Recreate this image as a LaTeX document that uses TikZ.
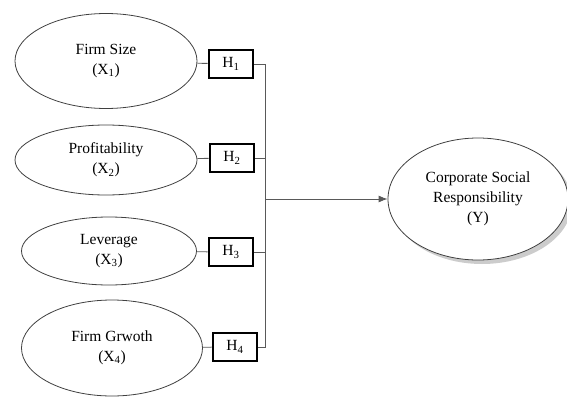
\documentclass[tikz,border=0pt]{standalone}
\usepackage{fontspec}
\setmainfont{Liberation Serif}
\usepackage{xcolor}
\usetikzlibrary{shapes.geometric,shadows,arrows.meta}

\begin{document}
\begin{tikzpicture}[x=1pt,y=-1pt]
\tikzstyle{every node}+=[inner sep=0pt, align=center, font=\fontsize{15.5}{20}\selectfont]
\tikzstyle{var}=[draw=black!75, line width=0.8pt, ellipse, fill=white]
\tikzstyle{hyp}=[draw=black, line width=2.6pt, minimum width=44, minimum height=28, fill=white]
\tikzstyle{link}=[draw=black!65, line width=0.9pt]
\useasboundingbox (0,0) rectangle (567,404);
\node [var, minimum width=182, minimum height=95] (fs) at (106,61) {Firm Size\\(X\textsubscript{1})};
\node [var, minimum width=182, minimum height=70] (pr) at (106,160) {Profitability\\(X\textsubscript{2})};
\node [var, minimum width=175, minimum height=68] (lev) at (109,251) {Leverage\\(X\textsubscript{3})};
\node [var, minimum width=181, minimum height=96] (fg) at (112,348) {Firm Grwoth\\(X\textsubscript{4})};
\node [var, minimum width=180, minimum height=122, drop shadow={shadow xshift=4pt, shadow yshift=-4pt, fill=black!40}] (csr) at (478,199) {Corporate Social\\Responsibility\\(Y)};
\node [hyp] (h1) at (231,64) {H\textsubscript{1}};
\node [hyp] (h2) at (232,158) {H\textsubscript{2}};
\node [hyp] (h3) at (231,252) {H\textsubscript{3}};
\node [hyp] (h4) at (235,347) {H\textsubscript{4}};
\coordinate (j1) at (265,64);
\coordinate (j2) at (265,158);
\coordinate (j3) at (265,252);
\coordinate (j4) at (265,347);
\coordinate (jm) at (265,199);
\draw [link] (fs) -- (h1);
\draw [link] (pr) -- (h2);
\draw [link] (lev) -- (h3);
\draw [link] (fg) -- (h4);
\draw [link] (h1) -- (j1) -- (j4) -- (h4);
\draw [link] (h2) -- (j2);
\draw [link] (h3) -- (j3);
\draw [link, -{Latex[length=9pt,width=7pt]}] (jm) -- (csr);
\end{tikzpicture}
\end{document}
